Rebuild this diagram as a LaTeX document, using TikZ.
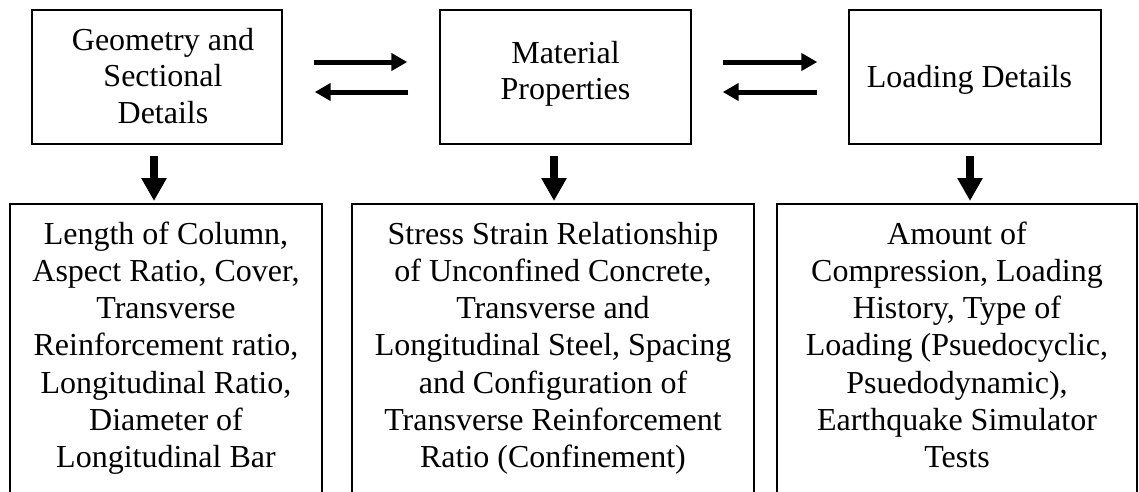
\documentclass[tikz,border=0pt]{standalone}
\usepackage{fontspec}
\setmainfont{Liberation Serif}
\usetikzlibrary{arrows.meta,calc}
\begin{document}
\begin{tikzpicture}[x=1pt,y=-1pt,
  box/.style={draw, line width=1.4pt, inner sep=0pt},
  lowbox/.style={box, line width=2pt},
  txt/.style={anchor=north, inner sep=0pt, align=center, font=\fontsize{32}{36.6}\selectfont},
  lowtxt/.style={txt, font=\fontsize{32}{37.2}\selectfont},
  harrow/.style={line width=5pt, -{Triangle[length=16pt,width=17pt]}},
  varrow/.style={line width=8pt, -{Triangle[length=23pt,width=24pt]}}]
\useasboundingbox (0,0) rectangle (1139,491);
\clip (0,0) rectangle (1139,491);
% top boxes
\node[box, minimum width=250pt, minimum height=134pt] (g) at (157,77) {};
\node[box, minimum width=251pt, minimum height=134pt] (m) at (565.5,77) {};
\node[box, minimum width=252pt, minimum height=134pt] (l) at (975,77) {};
% bottom boxes
\node[lowbox, minimum width=312pt, minimum height=316pt] (b1) at (166,362) {};
\node[lowbox, minimum width=402pt, minimum height=316pt] (b2) at (553,362) {};
\node[lowbox, minimum width=360pt, minimum height=316pt] (b3) at (957,362) {};
% texts
\node[txt] (gt) at (163,24.4) {\strut Geometry and\\Sectional\\Details};
\node[txt] (mt) at (565.5,37.4) {\strut Material\\Properties};
\node[txt] (lt) at (969.5,61.4) {\strut Loading Details};
\node[lowtxt] (b1t) at (166,217.96) {\strut Length of Column,\\Aspect Ratio, Cover,\\Transverse\\Reinforcement ratio,\\Longitudinal Ratio,\\Diameter of\\Longitudinal Bar};
\node[lowtxt] (b2t) at (553,217.96) {\strut Stress Strain Relationship\\of Unconfined Concrete,\\Transverse and\\Longitudinal Steel, Spacing\\and Configuration of\\Transverse Reinforcement\\Ratio (Confinement)};
\node[lowtxt] (b3t) at (957,217.96) {\strut Amount of\\Compression, Loading\\History, Type of\\Loading (Psuedocyclic,\\Psuedodynamic),\\Earthquake Simulator\\Tests};
% horizontal arrows
\draw[harrow] ($(g.east)+(31pt,15pt)$) -- ($(m.west)+(-32pt,15pt)$);
\draw[harrow] ($(m.west)+(-31pt,-15pt)$) -- ($(g.east)+(32pt,-15pt)$);
\draw[harrow] ($(m.east)+(31pt,15pt)$) -- ($(l.west)+(-31pt,15pt)$);
\draw[harrow] ($(l.west)+(-31pt,-15pt)$) -- ($(m.east)+(31pt,-15pt)$);
% down arrows
\draw[varrow] ($(g.south)+(-3pt,-11pt)$) -- ($(g.south|-b1.north)+(-3pt,2pt)$);
\draw[varrow] ($(m.south)+(-11.5pt,-11pt)$) -- ($(m.south|-b2.north)+(-11.5pt,2pt)$);
\draw[varrow] ($(l.south)+(-5pt,-11pt)$) -- ($(l.south|-b3.north)+(-5pt,2pt)$);
\end{tikzpicture}
\end{document}
